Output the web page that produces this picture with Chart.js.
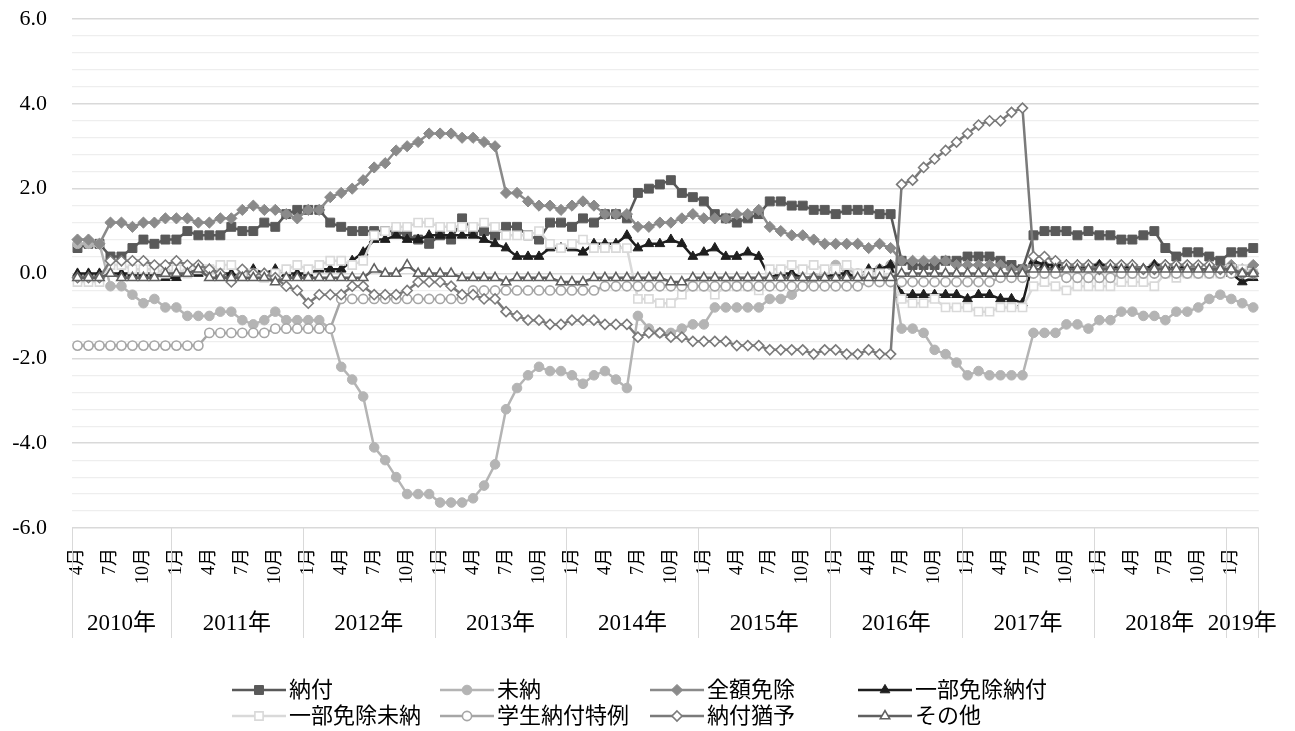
<!DOCTYPE html>
<html>
<head>
<meta charset="utf-8">
<script src="https://cdn.jsdelivr.net/npm/chart.js@4.4.0/dist/chart.umd.min.js"></script>
<style>
html, body { margin: 0; padding: 0; background: #fff; }
</style>
</head>
<body>
<canvas id="myChart" width="1295" height="731"></canvas>
<script>
// categories: fiscal months from April 2010
var years = ['2010年', '2011年', '2012年', '2013年', '2014年', '2015年', '2016年', '2017年', '2018年', '2019年'];
var monthsInYear = [9, 12, 12, 12, 12, 12, 12, 12, 12, 3];
var firstMonth = 4;

var yTickLabels = [-6, -4, -2, 0, 2, 4, 6];
var yMinorStep = 0.4;

var seriesNames = ['納付', '未納', '全額免除', '一部免除納付', '一部免除未納', '学生納付特例', '納付猶予', 'その他'];

var noufu = [
  0.6, 0.7, 0.7, 0.4, 0.4, 0.6, 0.8, 0.7, 0.8,
  0.8, 1.0, 0.9, 0.9, 0.9, 1.1, 1.0, 1.0, 1.2, 1.1, 1.4, 1.5,
  1.5, 1.5, 1.2, 1.1, 1.0, 1.0, 1.0, 1.0, 1.0, 0.9, 0.8, 0.7,
  0.9, 0.8, 1.3, 1.0, 1.0, 0.9, 1.1, 1.1, 0.9, 0.8, 1.2, 1.2,
  1.1, 1.3, 1.2, 1.4, 1.4, 1.3, 1.9, 2.0, 2.1, 2.2, 1.9, 1.8,
  1.7, 1.4, 1.3, 1.2, 1.3, 1.4, 1.7, 1.7, 1.6, 1.6, 1.5, 1.5,
  1.4, 1.5, 1.5, 1.5, 1.4, 1.4, 0.3, 0.2, 0.2, 0.2, 0.3, 0.3,
  0.4, 0.4, 0.4, 0.3, 0.2, 0.1, 0.9, 1.0, 1.0, 1.0, 0.9, 1.0,
  0.9, 0.9, 0.8, 0.8, 0.9, 1.0, 0.6, 0.4, 0.5, 0.5, 0.4, 0.3,
  0.5, 0.5, 0.6
];
var minou = [
  0.7, 0.7, 0.7, -0.3, -0.3, -0.5, -0.7, -0.6, -0.8,
  -0.8, -1.0, -1.0, -1.0, -0.9, -0.9, -1.1, -1.2, -1.1, -0.9, -1.1, -1.1,
  -1.1, -1.1, -1.3, -2.2, -2.5, -2.9, -4.1, -4.4, -4.8, -5.2, -5.2, -5.2,
  -5.4, -5.4, -5.4, -5.3, -5.0, -4.5, -3.2, -2.7, -2.4, -2.2, -2.3, -2.3,
  -2.4, -2.6, -2.4, -2.3, -2.5, -2.7, -1.0, -1.3, -1.4, -1.4, -1.3, -1.2,
  -1.2, -0.8, -0.8, -0.8, -0.8, -0.8, -0.6, -0.6, -0.5, -0.3, -0.1, 0.0,
  0.2, 0.1, 0.0, 0.0, 0.1, 0.2, -1.3, -1.3, -1.4, -1.8, -1.9, -2.1,
  -2.4, -2.3, -2.4, -2.4, -2.4, -2.4, -1.4, -1.4, -1.4, -1.2, -1.2, -1.3,
  -1.1, -1.1, -0.9, -0.9, -1.0, -1.0, -1.1, -0.9, -0.9, -0.8, -0.6, -0.5,
  -0.6, -0.7, -0.8
];
var zengakuMenjo = [
  0.8, 0.8, 0.7, 1.2, 1.2, 1.1, 1.2, 1.2, 1.3,
  1.3, 1.3, 1.2, 1.2, 1.3, 1.3, 1.5, 1.6, 1.5, 1.5, 1.4, 1.3,
  1.5, 1.5, 1.8, 1.9, 2.0, 2.2, 2.5, 2.6, 2.9, 3.0, 3.1, 3.3,
  3.3, 3.3, 3.2, 3.2, 3.1, 3.0, 1.9, 1.9, 1.7, 1.6, 1.6, 1.5,
  1.6, 1.7, 1.6, 1.4, 1.4, 1.4, 1.1, 1.1, 1.2, 1.2, 1.3, 1.4,
  1.3, 1.3, 1.3, 1.4, 1.4, 1.5, 1.1, 1.0, 0.9, 0.9, 0.8, 0.7,
  0.7, 0.7, 0.7, 0.6, 0.7, 0.6, 0.3, 0.3, 0.3, 0.3, 0.3, 0.2,
  0.2, 0.2, 0.2, 0.2, 0.1, 0.1, 0.2, 0.2, 0.2, 0.2, 0.1, 0.2,
  0.2, 0.2, 0.2, 0.1, 0.1, 0.2, 0.2, 0.2, 0.2, 0.1, 0.1, 0.1,
  0.2, 0.1, 0.2
];
var ichibuNoufu = [
  0.0, 0.0, 0.0, 0.0, 0.0, 0.0, 0.0, 0.0, -0.1,
  -0.1, 0.0, 0.0, 0.1, 0.0, 0.0, -0.1, 0.1, 0.0, 0.1, 0.0, 0.0,
  0.0, 0.1, 0.1, 0.1, 0.3, 0.5, 0.8, 0.8, 0.9, 0.8, 0.8, 0.9,
  0.9, 0.9, 0.9, 0.9, 0.8, 0.7, 0.6, 0.4, 0.4, 0.4, 0.6, 0.6,
  0.6, 0.5, 0.7, 0.7, 0.7, 0.9, 0.6, 0.7, 0.7, 0.8, 0.7, 0.4,
  0.5, 0.6, 0.4, 0.4, 0.5, 0.4, -0.1, 0.0, 0.0, -0.1, -0.1, -0.1,
  0.0, 0.0, -0.1, 0.1, 0.1, 0.2, -0.5, -0.5, -0.5, -0.5, -0.5, -0.5,
  -0.6, -0.5, -0.5, -0.6, -0.6, -0.7, 0.3, 0.2, 0.2, 0.2, 0.2, 0.2,
  0.2, 0.2, 0.1, 0.2, 0.1, 0.2, 0.2, 0.2, 0.1, 0.1, 0.1, 0.1,
  0.0, -0.2, -0.1
];
var ichibuMinou = [
  -0.2, -0.2, -0.2, 0.2, 0.2, 0.1, 0.1, 0.1, 0.0,
  0.1, 0.0, 0.1, 0.1, 0.2, 0.2, 0.0, 0.0, -0.1, 0.0, 0.1, 0.2,
  0.1, 0.2, 0.3, 0.3, 0.2, 0.3, 0.9, 1.0, 1.1, 1.1, 1.2, 1.2,
  1.1, 1.1, 1.1, 1.1, 1.2, 1.1, 0.9, 0.9, 0.9, 1.0, 0.7, 0.6,
  0.7, 0.8, 0.6, 0.6, 0.6, 0.6, -0.6, -0.6, -0.7, -0.7, -0.5, -0.3,
  -0.3, -0.5, -0.3, -0.3, -0.3, -0.4, 0.1, 0.1, 0.2, 0.1, 0.2, 0.1,
  0.1, 0.2, 0.0, 0.0, 0.0, -0.1, -0.6, -0.7, -0.7, -0.6, -0.8, -0.8,
  -0.8, -0.9, -0.9, -0.8, -0.8, -0.8, -0.3, -0.2, -0.3, -0.4, -0.3, -0.3,
  -0.3, -0.3, -0.2, -0.2, -0.2, -0.3, 0.0, -0.1, 0.0, 0.0, 0.0, 0.0,
  0.1, 0.1, 0.0
];
var gakuseiTokurei = [
  -1.7, -1.7, -1.7, -1.7, -1.7, -1.7, -1.7, -1.7, -1.7,
  -1.7, -1.7, -1.7, -1.4, -1.4, -1.4, -1.4, -1.4, -1.4, -1.3, -1.3, -1.3,
  -1.3, -1.3, -1.3, -0.6, -0.6, -0.6, -0.6, -0.6, -0.6, -0.6, -0.6, -0.6,
  -0.6, -0.6, -0.6, -0.4, -0.4, -0.4, -0.4, -0.4, -0.4, -0.4, -0.4, -0.4,
  -0.4, -0.4, -0.4, -0.3, -0.3, -0.3, -0.3, -0.3, -0.3, -0.3, -0.3, -0.3,
  -0.3, -0.3, -0.3, -0.3, -0.3, -0.3, -0.3, -0.3, -0.3, -0.3, -0.3, -0.3,
  -0.3, -0.3, -0.3, -0.2, -0.2, -0.2, -0.2, -0.2, -0.2, -0.2, -0.2, -0.2,
  -0.2, -0.2, -0.2, -0.1, -0.1, -0.1, 0.0, 0.0, 0.0, -0.1, -0.1, -0.1,
  -0.1, -0.1, 0.0, 0.0, 0.0, 0.0, 0.0, 0.0, 0.0, 0.0, 0.0, 0.0,
  0.0, 0.0, 0.0
];
var noufuYuuyo = [
  -0.1, -0.1, -0.1, 0.3, 0.3, 0.3, 0.3, 0.2, 0.2,
  0.3, 0.2, 0.2, 0.1, 0.0, -0.2, 0.1, 0.0, 0.0, -0.1, -0.3, -0.4,
  -0.7, -0.5, -0.5, -0.5, -0.3, -0.3, -0.5, -0.5, -0.5, -0.4, -0.2, -0.2,
  -0.2, -0.3, -0.5, -0.5, -0.6, -0.6, -0.9, -1.0, -1.1, -1.1, -1.2, -1.2,
  -1.1, -1.1, -1.1, -1.2, -1.2, -1.2, -1.5, -1.4, -1.4, -1.5, -1.5, -1.6,
  -1.6, -1.6, -1.6, -1.7, -1.7, -1.7, -1.8, -1.8, -1.8, -1.8, -1.9, -1.8,
  -1.8, -1.9, -1.9, -1.8, -1.9, -1.9, 2.1, 2.2, 2.5, 2.7, 2.9, 3.1,
  3.3, 3.5, 3.6, 3.6, 3.8, 3.9, 0.4, 0.4, 0.3, 0.2, 0.2, 0.2,
  0.1, 0.2, 0.2, 0.2, 0.1, 0.1, 0.2, 0.2, 0.2, 0.2, 0.2, 0.1,
  0.1, 0.0, 0.0
];
var sonota = [
  -0.1, -0.1, -0.1, 0.0, -0.1, -0.1, -0.1, -0.1, 0.0,
  0.0, 0.0, 0.1, -0.1, -0.1, -0.1, -0.1, -0.1, -0.1, -0.2, -0.1, -0.1,
  -0.1, -0.1, -0.1, -0.1, -0.1, -0.1, 0.1, 0.0, 0.0, 0.2, 0.0, 0.0,
  0.0, 0.0, -0.1, -0.1, -0.1, -0.1, -0.2, -0.1, -0.1, -0.1, -0.1, -0.2,
  -0.2, -0.2, -0.1, -0.1, -0.1, -0.1, -0.1, -0.1, -0.1, -0.2, -0.2, -0.1,
  -0.1, -0.1, -0.1, -0.1, -0.1, -0.1, -0.1, -0.1, -0.1, -0.1, -0.1, -0.1,
  -0.1, -0.1, -0.1, -0.1, -0.1, -0.1, 0.0, 0.0, 0.0, 0.0, 0.0, 0.0,
  0.0, 0.0, 0.0, 0.0, 0.0, 0.0, 0.1, 0.1, 0.1, 0.1, 0.1, 0.1,
  0.1, 0.1, 0.1, 0.1, 0.1, 0.1, 0.1, 0.1, 0.1, 0.1, 0.1, 0.1,
  0.1, 0.0, 0.0
];

// month labels built from the year list
var months = [];
var m = firstMonth;
monthsInYear.forEach(function (n) {
  for (var k = 0; k < n; k++) {
    months.push(m + '月');
    m = m % 12 + 1;
  }
});

var FONT = "'Liberation Serif', 'Noto Sans CJK JP', serif";
Chart.defaults.font.family = FONT;
Chart.defaults.color = '#000';

var styles = [
  { color: '#595959', point: 'rect', radius: 6.3, fill: true },
  { color: '#b4b4b4', point: 'circle', radius: 4.8, fill: true },
  { color: '#8a8a8a', point: 'rectRot', radius: 5.6, fill: true },
  { color: '#1e1e1e', point: 'triangle', radius: 5.6, fill: true },
  { color: '#d9d9d9', point: 'rect', radius: 5.8, fill: false },
  { color: '#a6a6a6', point: 'circle', radius: 4.6, fill: false },
  { color: '#7a7a7a', point: 'rectRot', radius: 5.0, fill: false },
  { color: '#606060', point: 'triangle', radius: 5.4, fill: false }
];
var values = [noufu, minou, zengakuMenjo, ichibuNoufu, ichibuMinou, gakuseiTokurei, noufuYuuyo, sonota];

var datasets = seriesNames.map(function (name, i) {
  var s = styles[i];
  return {
    label: name,
    data: values[i],
    borderColor: s.color,
    borderWidth: 2.5,
    pointStyle: s.point,
    pointRadius: s.radius,
    pointBorderColor: s.color,
    pointBackgroundColor: s.fill ? s.color : '#ffffff',
    pointBorderWidth: s.fill ? 1 : 1.6,
    tension: 0,
    order: seriesNames.length - 1 - i
  };
});

function isMajor(v) {
  return yTickLabels.some(function (t) { return Math.abs(t - v) < 1e-6; });
}

function drawMarker(ctx, s, x, y) {
  var r = s.radius;
  ctx.beginPath();
  if (s.point === 'circle') {
    ctx.arc(x, y, r, 0, Math.PI * 2);
  } else if (s.point === 'rect') {
    var h = r * Math.SQRT1_2;
    ctx.rect(x - h, y - h, 2 * h, 2 * h);
  } else if (s.point === 'rectRot') {
    ctx.moveTo(x, y - r); ctx.lineTo(x + r, y); ctx.lineTo(x, y + r); ctx.lineTo(x - r, y);
    ctx.closePath();
  } else {
    var a = Math.PI / 2;
    ctx.moveTo(x + Math.cos(-a) * r, y + Math.sin(-a) * r);
    ctx.lineTo(x + Math.cos(-a + 2.0944) * r, y + Math.sin(-a + 2.0944) * r);
    ctx.lineTo(x + Math.cos(-a + 4.1888) * r, y + Math.sin(-a + 4.1888) * r);
    ctx.closePath();
  }
  ctx.fillStyle = s.fill ? s.color : '#ffffff';
  ctx.fill();
  ctx.lineWidth = s.fill ? 1 : 1.6;
  ctx.strokeStyle = s.color;
  ctx.stroke();
}

// two-level category labels (years) under the month ticks
var yearAxis = {
  id: 'yearAxis',
  afterDraw: function (chart) {
    var ctx = chart.ctx;
    var xs = chart.scales.x;
    var area = chart.chartArea;
    var step = xs.getPixelForValue(1) - xs.getPixelForValue(0);
    var idx = 0;
    ctx.save();
    ctx.strokeStyle = '#d9d9d9';
    ctx.lineWidth = 1;
    ctx.fillStyle = '#000';
    ctx.font = '23px ' + FONT;
    ctx.textAlign = 'center';
    ctx.textBaseline = 'middle';
    years.forEach(function (y, k) {
      var left = xs.getPixelForValue(idx) - step / 2;
      var right = xs.getPixelForValue(idx + monthsInYear[k] - 1) + step / 2;
      var lx = Math.round(left) + 0.5;
      ctx.beginPath(); ctx.moveTo(lx, area.bottom); ctx.lineTo(lx, area.bottom + 110); ctx.stroke();
      if (k === years.length - 1) {
        var rx = Math.round(right) - 0.5;
        ctx.beginPath(); ctx.moveTo(rx, area.bottom); ctx.lineTo(rx, area.bottom + 110); ctx.stroke();
      }
      ctx.fillText(y, (left + right) / 2, area.bottom + 96);
      idx += monthsInYear[k];
    });
    ctx.restore();
  }
};

// legend laid out in a 4 x 2 grid
var gridLegend = {
  id: 'gridLegend',
  afterDraw: function (chart) {
    var ctx = chart.ctx;
    var cols = [232, 440, 650, 858];
    var rows = [690, 716];
    ctx.save();
    ctx.font = '22px ' + FONT;
    ctx.textBaseline = 'middle';
    ctx.textAlign = 'left';
    chart.data.datasets.forEach(function (ds, i) {
      var x = cols[i % 4], y = rows[Math.floor(i / 4)];
      var s = styles[i];
      ctx.strokeStyle = s.color;
      ctx.lineWidth = 2.5;
      ctx.beginPath(); ctx.moveTo(x, y); ctx.lineTo(x + 54, y); ctx.stroke();
      drawMarker(ctx, s, x + 27, y);
      ctx.fillStyle = '#000';
      ctx.fillText(ds.label, x + 57, y + 1);
    });
    ctx.restore();
  }
};

var ctx = document.getElementById('myChart').getContext('2d');
var chart = new Chart(ctx, {
  type: 'line',
  data: { labels: months, datasets: datasets },
  options: {
    responsive: false,
    animation: false,
    layout: { padding: { top: 19, right: 33, bottom: 0, left: 0 } },
    plugins: { legend: { display: false }, tooltip: { enabled: false } },
    scales: {
      x: {
        type: 'category',
        offset: true,
        grid: { display: false, drawTicks: false },
        border: { display: false },
        ticks: {
          autoSkip: false,
          minRotation: 90,
          maxRotation: 90,
          padding: 20,
          font: { size: 18 },
          callback: function (v, i) { return i % 3 === 0 ? months[i] : ''; }
        },
        afterFit: function (s) { s.height = 203; }
      },
      y: {
        min: -6,
        max: 6,
        grid: {
          drawTicks: true,
          tickLength: 25,
          tickColor: 'rgba(0,0,0,0)',
          color: function (c) { return isMajor(c.tick.value) ? '#d9d9d9' : '#eeeeee'; },
          lineWidth: function (c) { return isMajor(c.tick.value) ? 1.5 : 1.2; }
        },
        border: { display: false },
        ticks: {
          autoSkip: false,
          padding: 0,
          font: { size: 22 },
          callback: function (v) {
            if (!isMajor(v)) return '';
            var r = Math.round(v * 10) / 10;
            return (r === 0 ? 0 : r).toFixed(1);
          }
        },
        afterBuildTicks: function (s) {
          var t = [];
          var n = Math.round((s.max - s.min) / yMinorStep);
          for (var k = 0; k <= n; k++) t.push({ value: Math.round((s.min + k * yMinorStep) * 10) / 10 });
          s.ticks = t;
        },
        afterFit: function (s) { s.width = 72; }
      }
    }
  },
  plugins: [yearAxis, gridLegend]
});
</script>
</body>
</html>
